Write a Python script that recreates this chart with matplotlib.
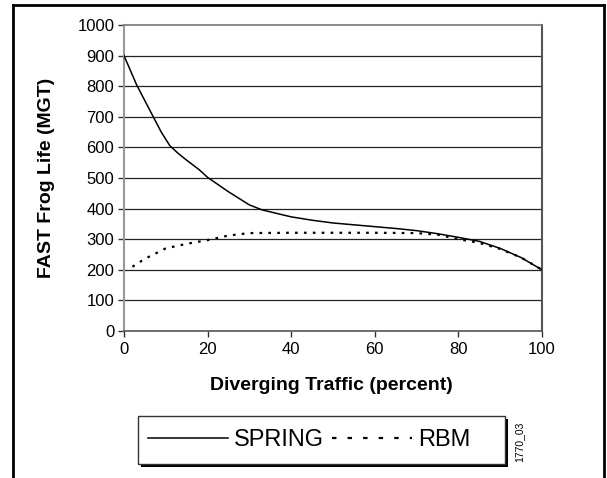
import matplotlib
matplotlib.use("Agg")
import matplotlib.pyplot as plt
from matplotlib.lines import Line2D
from matplotlib.patches import Rectangle

plt.rcParams['font.family'] = ['Liberation Sans', 'DejaVu Sans']

# ---- data ----
spring_x = [0, 3, 7, 9, 11, 13, 15, 18, 20, 25, 30, 33, 36, 40, 45, 50, 55, 60, 65, 70, 75, 80, 85, 90, 95, 100]
spring_y = [900, 805, 700, 648, 605, 580, 558, 527, 502, 455, 412, 396, 386, 373, 362, 353, 347, 341, 335, 328, 318, 306, 293, 270, 240, 200]
rbm_x = [2, 5, 10, 15, 20, 25, 30, 40, 50, 60, 70, 75, 80, 85, 90, 95, 100]
rbm_y = [210, 236, 270, 285, 297, 312, 320, 321, 321, 321, 320, 315, 300, 288, 268, 240, 200]
x_ticks = [0, 20, 40, 60, 80, 100]
y_ticks = [0, 100, 200, 300, 400, 500, 600, 700, 800, 900, 1000]
series_names = ["SPRING", "RBM"]

W, H = 607, 478
fig = plt.figure(figsize=(W / 100, H / 100), dpi=100)

def fx(px):
    return px / W

def fy(py):
    return 1 - py / H

# axes: x 124..542, y 25..331 (pixels from top)
ax = fig.add_axes([fx(124), fy(331), (542 - 124) / W, (331 - 25) / H])
ax.set_xlim(0, 100)
ax.set_ylim(0, 1000)

for v in y_ticks[1:-1]:
    ax.axhline(v, color='#222222', lw=0.9, zorder=1)

ax.plot(spring_x, spring_y, color='black', lw=1.1, zorder=3, label=series_names[0])
ax.plot(rbm_x, rbm_y, color='black', lw=1.6, linestyle=(0, (1.2, 2.8)), zorder=3, label=series_names[1])

ax.set_xticks(x_ticks)
ax.set_yticks(y_ticks)
ax.tick_params(axis='both', direction='out', length=4, width=1, color='#333333',
               labelsize=12, pad=3)
ax.tick_params(axis='x', pad=4)

ax.spines['left'].set_color('#999999')
ax.spines['left'].set_linewidth(1.5)
ax.spines['bottom'].set_color('#555555')
ax.spines['bottom'].set_linewidth(1.2)
ax.spines['right'].set_color('#555555')
ax.spines['right'].set_linewidth(1.5)
ax.spines['top'].set_color('#777777')
ax.spines['top'].set_linewidth(1.2)

fig.text(fx(331), fy(390), "Diverging Traffic (percent)", ha='center', va='baseline',
         fontsize=14, fontweight='bold')
fig.text(fx(47), fy(178), "FAST Frog Life (MGT)", ha='center', va='center',
         rotation=90, fontsize=14, fontweight='bold')

# legend frame (with black shadow)
fig.patches.append(Rectangle((fx(141), fy(467)), fx(505 - 138), (464 - 416) / H,
                             transform=fig.transFigure, facecolor='black',
                             edgecolor='black', lw=0, zorder=1))
fig.patches.append(Rectangle((fx(138), fy(464)), fx(505 - 138), (464 - 416) / H,
                             transform=fig.transFigure, facecolor='white',
                             edgecolor='#333333', lw=1.0, zorder=2))

handles = [Line2D([], [], color='black', lw=1.1),
           Line2D([], [], color='black', lw=1.6, linestyle=(0, (2.0, 5.0)))]
leg = fig.legend(handles, series_names, loc='center left',
                 bbox_to_anchor=(fx(143), fy(440)), ncol=2, frameon=False,
                 fontsize=17, handlelength=3.4, handletextpad=0.25,
                 columnspacing=0.35, borderpad=0.2, borderaxespad=0)
leg.set_zorder(5)

fig.text(fx(519), fy(442), "1770_03", rotation=90, ha='center', va='center', fontsize=7.5)

# outer frame
for xs, ys in [([13, 13], [478, 5]), ([13, 604], [5, 5]), ([604, 604], [5, 478])]:
    fig.add_artist(Line2D([fx(x) for x in xs], [fy(y) for y in ys], color='black',
                          lw=2.0, transform=fig.transFigure, solid_capstyle='projecting'))

fig.savefig("out.png", dpi=100)
